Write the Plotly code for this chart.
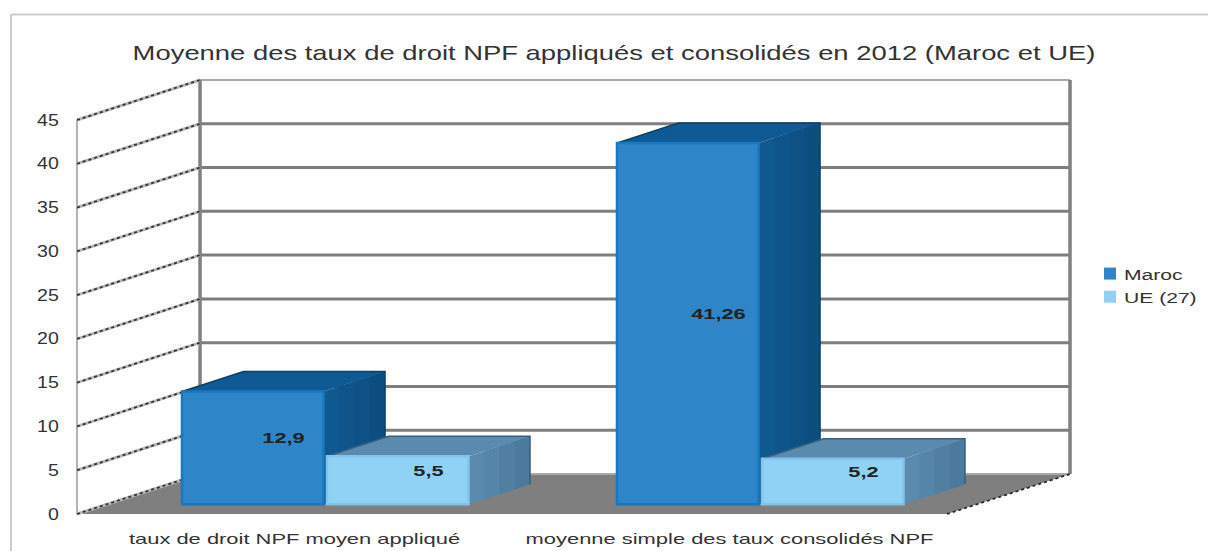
import plotly.graph_objects as go

# ---------- data ----------
categories = ["taux de droit NPF moyen appliqué", "moyenne simple des taux consolidés NPF"]
maroc = [12.9, 41.26]
ue = [5.5, 5.2]
maroc_labels = ["12,9", "41,26"]
ue_labels = ["5,5", "5,2"]
ticks = list(range(0, 50, 5))

FONT = "Liberation Sans, Arial, sans-serif"
W, H = 1208, 551
# pixel calibration of the value / category scales
X0, PX_CAT = 77, 435
Y0, PX_VAL = 514, 8.756
DX, DY = 123 / PX_CAT, 40 / PX_VAL   # full depth of the 3D box in data units
VMAX = 45
BW = 1 / 3
INSET = 0.004
FRONT_D, BACK_D = 0.25, 0.75
BASE_LIFT = 1.1


def P(c, v, d=0.0):
    return c + DX * d, v + DY * d


def path(pts):
    return "M " + " L ".join(f"{x:.4f},{y:.4f}" for x, y in pts) + " Z"


def line_path(pts):
    return "M " + " L ".join(f"{x:.4f},{y:.4f}" for x, y in pts)


def mix(a, b, t):
    return "#" + "".join(f"{round(a[i] + (b[i] - a[i]) * t):02x}" for i in range(3))


shapes = []


def poly(pts, fill):
    shapes.append(dict(type="path", path=path(pts), fillcolor=fill, line=dict(width=0),
                       xref="x", yref="y", layer="below"))


def stroke(pts, color, width, dash="solid"):
    shapes.append(dict(type="path", path=line_path(pts), line=dict(color=color, width=width, dash=dash),
                       xref="x", yref="y", layer="below"))


L, R = -0.5, 1.5
# floor
poly([P(L, 0, 0), P(R, 0, 0), P(R, 0, 1), P(L, 0, 1)], "#7f7f7f")
# back wall grid
stroke([P(L, 0, 1), P(R, 0, 1)], "#a8a8a8", 2)
for t in ticks[1:]:
    if t == VMAX:
        stroke([P(L, t, 1), P(R, t, 1)], "#ababab", 2)
    else:
        stroke([P(L, t, 1), P(R, t, 1)], "#7e7e7e", 3)
stroke([P(L, 0, 1), P(L, VMAX, 1)], "#808080", 3.5)
stroke([P(R, 0, 1), P(R, VMAX, 1)], "#808080", 3.5)
# left wall
stroke([P(L, 0, 0), P(L, VMAX, 0)], "#9a9a9a", 1.5)
for t in ticks:
    stroke([P(L, t, 0), P(L, t, 1)], "#b8b8b8", 3)
    stroke([P(L, t, 0), P(L, t, 1)], "#333333", 1.8, "dot")
stroke([P(R, 0, 0), P(R, 0, 1)], "#2a2a2a", 1.8, "dot")


def box_3d(c0, v, top, side_a, side_b, edge):
    c0 += INSET
    c1 = c0 + BW - 2 * INSET
    b = BASE_LIFT - DY * FRONT_D
    # top face
    poly([P(c0, b + v, FRONT_D), P(c1, b + v, FRONT_D), P(c1, b + v, BACK_D), P(c0, b + v, BACK_D)], top)
    # side face: solid base, then a soft darker band towards the back
    poly([P(c1, b, FRONT_D), P(c1, b, BACK_D), P(c1, b + v, BACK_D), P(c1, b + v, FRONT_D)], mix(side_a, side_b, 0.0))
    n = 4
    for i in range(1, n):
        d0 = FRONT_D + (BACK_D - FRONT_D) * i / n
        poly([P(c1, b, d0), P(c1, b, BACK_D), P(c1, b + v, BACK_D), P(c1, b + v, d0)], mix(side_a, side_b, i / (n - 1)))
    # silhouette
    stroke([P(c0, b, FRONT_D), P(c0, b + v, FRONT_D), P(c0, b + v, BACK_D), P(c1, b + v, BACK_D), P(c1, b, BACK_D)], edge, 1.5)


for i, (m, u) in enumerate(zip(maroc, ue)):
    box_3d(i - BW, m, "#0f5a94", (0x10, 0x59, 0x90), (0x0d, 0x4e, 0x80), "#0a3f66")
    box_3d(i, u, "#5a8aae", (0x5a, 0x8a, 0xae), (0x4c, 0x7a, 0x9c), "#38607e")

xs = list(range(len(categories)))
shift = DX * FRONT_D

fig = go.Figure()
fig.add_trace(go.Bar(name="Maroc", x=xs, y=maroc, base=[BASE_LIFT] * 2, width=BW - 2 * INSET,
                     offset=-BW + shift + INSET,
                     marker=dict(color="#2e86c8", line=dict(color="#1a78c0", width=2.5)), hoverinfo="skip"))
fig.add_trace(go.Bar(name="UE (27)", x=xs, y=ue, base=[BASE_LIFT] * 2, width=BW - 2 * INSET,
                     offset=shift + INSET,
                     marker=dict(color="#90d2f6", line=dict(color="#82c4ec", width=2.5)), hoverinfo="skip"))

# value labels, placed at the centre of each 3D box
lx, ly, lt = [], [], []
b_mid = BASE_LIFT - DY * FRONT_D
for i in xs:
    for c, v, t in ((i - BW / 2, maroc[i], maroc_labels[i]), (i + BW / 2, ue[i], ue_labels[i])):
        px, py = P(c, b_mid + v / 2 - 0.2, 0.5)
        lx.append(px)
        ly.append(py)
        lt.append(t)
fig.add_trace(go.Scatter(x=lx, y=ly, text=lt, mode="text", showlegend=False, hoverinfo="skip",
                         textfont=dict(family=FONT, size=15, color="#222222", weight="bold")))

# chart frame
shapes.append(dict(type="line", xref="paper", yref="paper", x0=11 / W, x1=1, y0=1 - 14.5 / H, y1=1 - 14.5 / H,
                   line=dict(color="#cfcbcb", width=2), layer="below"))
shapes.append(dict(type="line", xref="paper", yref="paper", x0=11 / W, x1=11 / W, y0=0, y1=1 - 14.5 / H,
                   line=dict(color="#cfcbcb", width=2), layer="below"))

fig.update_layout(
    width=W, height=H, margin=dict(l=0, r=0, t=0, b=0),
    paper_bgcolor="white", plot_bgcolor="white",
    barmode="overlay", shapes=shapes,
    font=dict(family=FONT, color="#333333"),
    title=dict(text="Moyenne des taux de droit NPF appliqués et consolidés en 2012 (Maroc et UE)",
               x=614 / W, xanchor="center", y=1 - 53 / H, yanchor="middle",
               font=dict(family=FONT, size=21, color="#333333")),
    legend=dict(x=1090 / W, y=1 - 257 / H, xanchor="left", yanchor="top", bgcolor="rgba(0,0,0,0)",
                font=dict(family=FONT, size=15.5, color="#333333"), itemwidth=30, tracegroupgap=0),
    xaxis=dict(range=[-X0 / PX_CAT - 0.5, (W - X0) / PX_CAT - 0.5], tickmode="array", tickvals=xs,
               ticktext=categories, tickfont=dict(family=FONT, size=15, color="#333333"),
               showgrid=False, zeroline=False, showline=False, ticks="outside", ticklen=1,
               tickcolor="rgba(0,0,0,0)", anchor="free", position=(H - 523.5) / H, fixedrange=True),
    yaxis=dict(range=[-(H - Y0) / PX_VAL, Y0 / PX_VAL], tickmode="array", tickvals=ticks,
               ticktext=[str(t) for t in ticks], tickfont=dict(family=FONT, size=16, color="#333333"),
               showgrid=False, zeroline=False, showline=False, ticks="outside", ticklen=15,
               tickcolor="rgba(0,0,0,0)", anchor="free", position=X0 / W, fixedrange=True),
)

# The reference text is stretched horizontally: widen the glyphs, keeping them real text.
post = """
document.body.style.margin='0';
(function(){
  function widen(sel,k){document.querySelectorAll(sel).forEach(function(t){
    if(t.dataset.wide)return;t.dataset.wide='1';
    var len=t.getComputedTextLength();
    t.setAttribute('textLength',len*k);t.setAttribute('lengthAdjust','spacingAndGlyphs');});}
  function run(){
    widen('.gtitle',1.305);widen('.xtick text',1.46);widen('.ytick text',1.22);
    widen('.textpoint text',1.45);widen('.legendtext',1.36);
    document.querySelectorAll('.legendtext').forEach(function(t){
      if(t.dataset.moved)return;t.dataset.moved='1';
      t.setAttribute('x',parseFloat(t.getAttribute('x'))-6);});
    document.querySelectorAll('.legendpoints path').forEach(function(p){p.style.strokeWidth='0';});
    document.querySelectorAll('.legend [clip-path], .legend .scrollbox').forEach(function(e){e.removeAttribute('clip-path');});
  }
  run();setTimeout(run,50);
})();
"""
fig.write_html("out.html", post_script=post, config=dict(displayModeBar=False))
